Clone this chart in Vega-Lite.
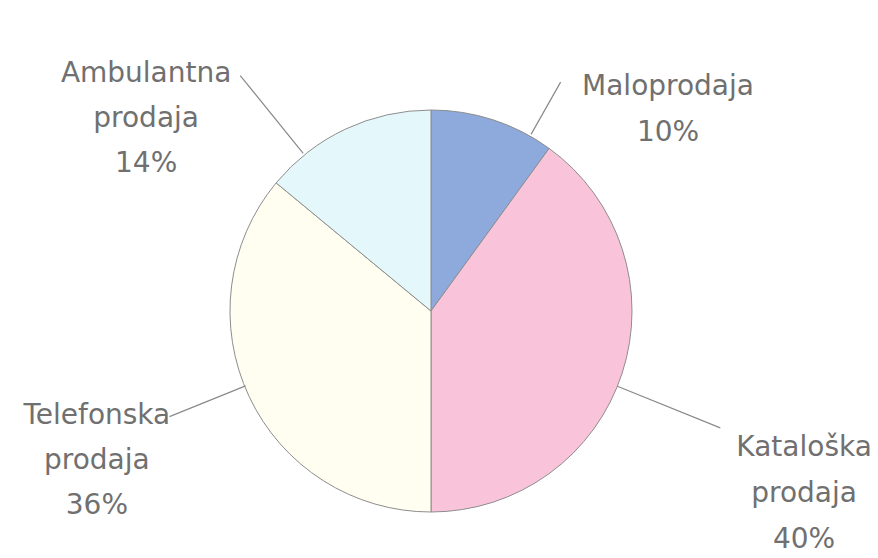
{
  "$schema": "https://vega.github.io/schema/vega-lite/v6.json",
  "autosize": "none",
  "width": 862,
  "height": 494,
  "padding": {"left": 0, "top": 64, "right": 16, "bottom": 0},
  "background": "white",
  "config": {"view": {"stroke": null}},
  "data": {
    "values": [
      {"k": "Maloprodaja", "v": 10, "ord": 1, "label": ["Maloprodaja", "10%"]},
      {"k": "Kataloška prodaja", "v": 40, "ord": 2, "label": ["Kataloška", "prodaja", "40%"]},
      {"k": "Telefonska prodaja", "v": 36, "ord": 3, "label": ["Telefonska", "prodaja", "36%"]},
      {"k": "Ambulantna prodaja", "v": 14, "ord": 4, "label": ["Ambulantna", "prodaja", "14%"]}
    ]
  },
  "transform": [
    {"stack": "v", "groupby": [], "sort": [{"field": "ord", "order": "ascending"}], "as": ["v0", "v1"]}
  ],
  "layer": [
    {
      "mark": {"type": "arc", "outerRadius": 201, "stroke": "#8d8d8d", "strokeWidth": 1},
      "encoding": {
        "theta": {"field": "v0", "type": "quantitative", "scale": {"domain": [0, 100]}},
        "theta2": {"field": "v1"},
        "color": {
          "field": "k", "type": "nominal", "legend": null,
          "scale": {
            "domain": ["Maloprodaja", "Kataloška prodaja", "Telefonska prodaja", "Ambulantna prodaja"],
            "range": ["#8eaadc", "#f9c4d9", "#fffef0", "#e4f8fc"]
          }
        }
      }
    },
    {
      "transform": [{"filter": "datum.k === 'Maloprodaja'"}],
      "mark": {"type": "arc", "innerRadius": 203, "outerRadius": 263, "thetaOffset": -0.113, "theta2Offset": -0.113, "fill": "transparent", "stroke": "#8a8a8a", "strokeWidth": 1.2},
      "encoding": {"theta": {"field": "v1", "type": "quantitative"}, "theta2": {"field": "v1"}}
    },
    {
      "transform": [{"filter": "datum.k === 'Kataloška prodaja'"}],
      "mark": {"type": "arc", "innerRadius": 201, "outerRadius": 312, "thetaOffset": -1.187, "theta2Offset": -1.187, "fill": "transparent", "stroke": "#8a8a8a", "strokeWidth": 1.2},
      "encoding": {"theta": {"field": "v1", "type": "quantitative"}, "theta2": {"field": "v1"}}
    },
    {
      "transform": [{"filter": "datum.k === 'Telefonska prodaja'"}],
      "mark": {"type": "arc", "innerRadius": 200, "outerRadius": 282, "thetaOffset": -1.075, "theta2Offset": -1.075, "fill": "transparent", "stroke": "#8a8a8a", "strokeWidth": 1.2},
      "encoding": {"theta": {"field": "v1", "type": "quantitative"}, "theta2": {"field": "v1"}}
    },
    {
      "transform": [{"filter": "datum.k === 'Ambulantna prodaja'"}],
      "mark": {"type": "arc", "innerRadius": 203, "outerRadius": 303, "thetaOffset": -0.681, "theta2Offset": -0.681, "fill": "transparent", "stroke": "#8a8a8a", "strokeWidth": 1.2},
      "encoding": {"theta": {"field": "v1", "type": "quantitative"}, "theta2": {"field": "v1"}}
    },
    {
      "transform": [{"filter": "datum.k === 'Maloprodaja'"}],
      "mark": {"type": "text", "radius": 329, "thetaOffset": 0.176, "dy": 4, "font": "DejaVu Sans", "fontSize": 28, "lineHeight": 46, "color": "#707070", "align": "center", "baseline": "middle"},
      "encoding": {"theta": {"field": "v1", "type": "quantitative"}, "text": {"field": "label", "type": "nominal"}}
    },
    {
      "transform": [{"filter": "datum.k === 'Kataloška prodaja'"}],
      "mark": {"type": "text", "radius": 396, "thetaOffset": -1.229, "dy": 4, "font": "DejaVu Sans", "fontSize": 28, "lineHeight": 46, "color": "#707070", "align": "center", "baseline": "middle"},
      "encoding": {"theta": {"field": "v1", "type": "quantitative"}, "text": {"field": "label", "type": "nominal"}}
    },
    {
      "transform": [{"filter": "datum.k === 'Telefonska prodaja'"}],
      "mark": {"type": "text", "radius": 349, "thetaOffset": -0.984, "dy": 4, "font": "DejaVu Sans", "fontSize": 28, "lineHeight": 45, "color": "#707070", "align": "center", "baseline": "middle"},
      "encoding": {"theta": {"field": "v1", "type": "quantitative"}, "text": {"field": "label", "type": "nominal"}}
    },
    {
      "transform": [{"filter": "datum.k === 'Ambulantna prodaja'"}],
      "mark": {"type": "text", "radius": 373, "thetaOffset": -0.869, "dy": 4, "font": "DejaVu Sans", "fontSize": 28, "lineHeight": 45, "color": "#707070", "align": "center", "baseline": "middle"},
      "encoding": {"theta": {"field": "v1", "type": "quantitative"}, "text": {"field": "label", "type": "nominal"}}
    }
  ]
}
